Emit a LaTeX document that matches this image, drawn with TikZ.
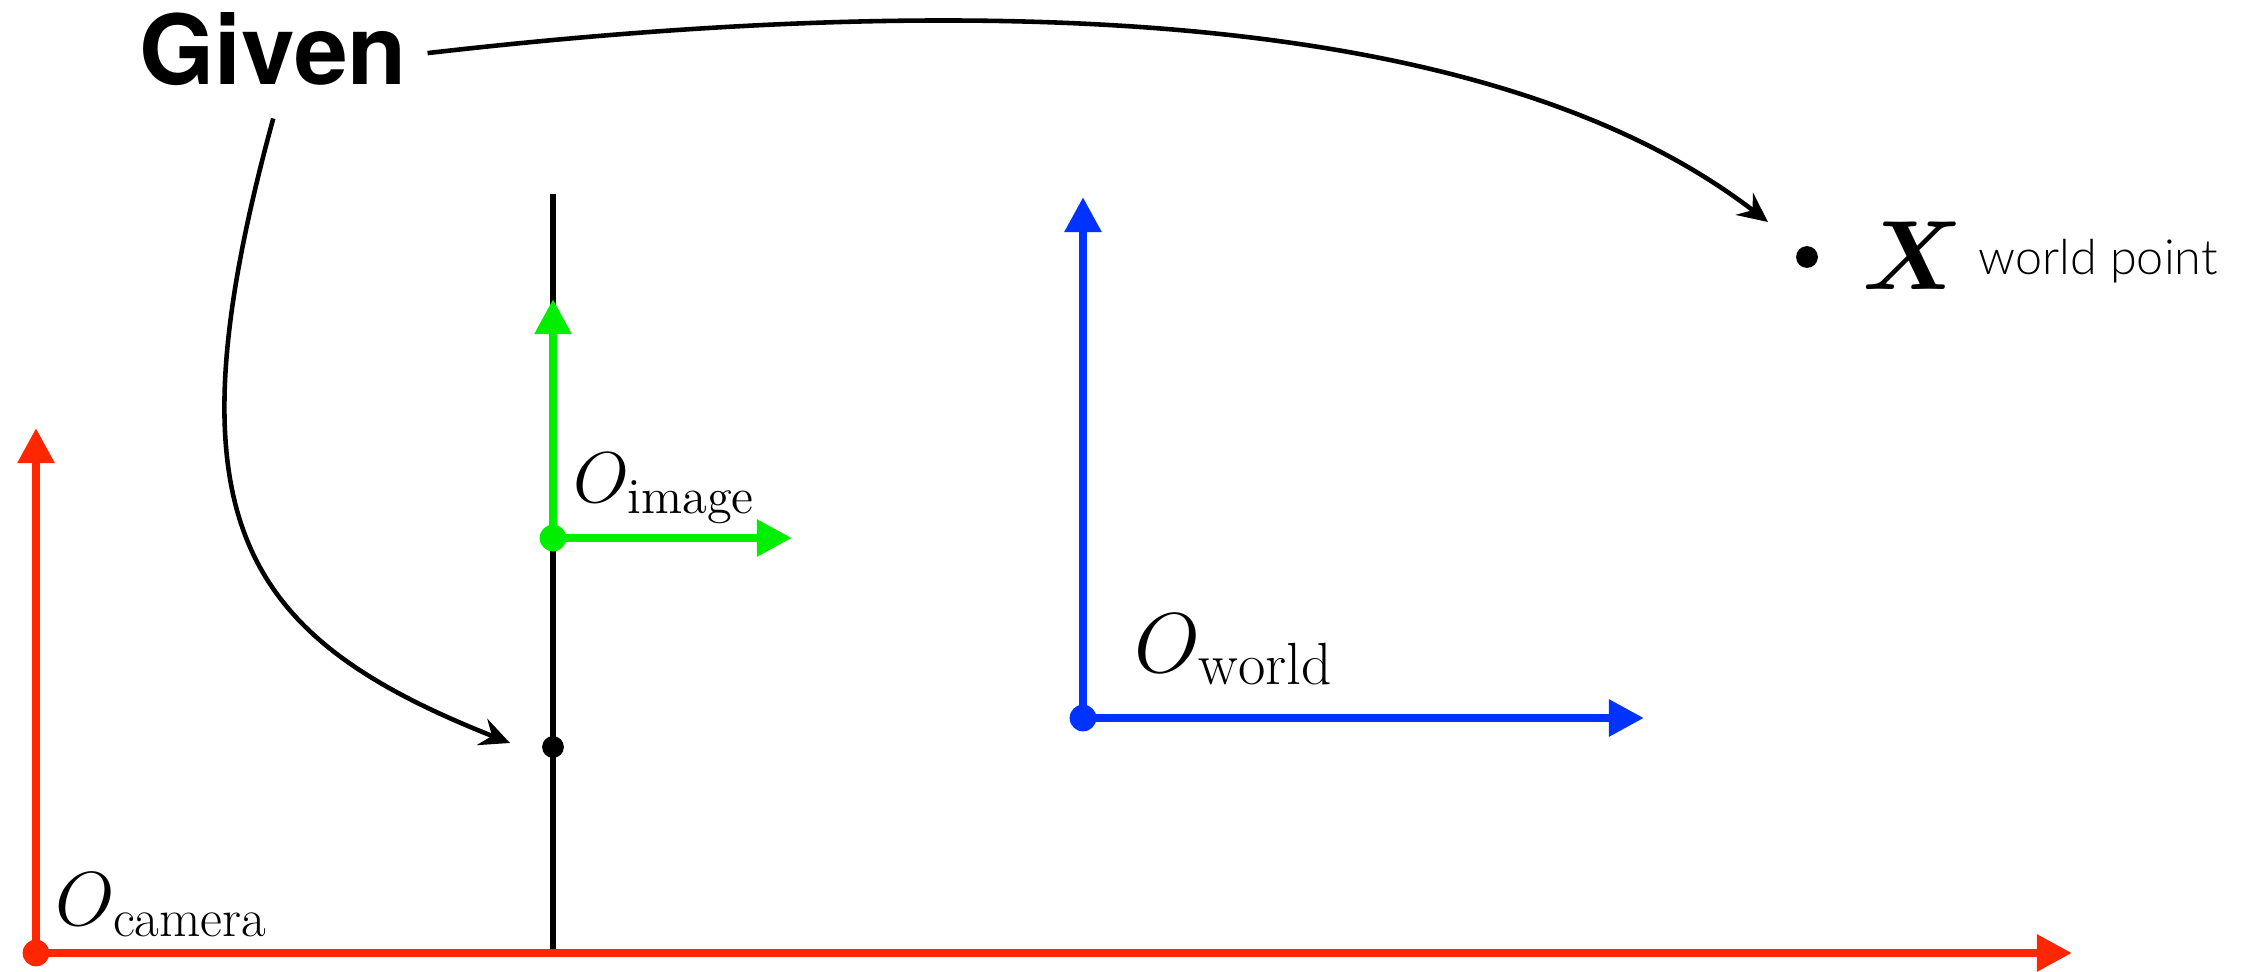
\RequirePackage{fix-cm}
\documentclass[tikz,border=0pt]{standalone}
\usepackage{amsmath}
\usepackage{bm}
\usepackage{fontspec}
\newfontfamily\heros{TeX Gyre Heros}
\IfFontExistsTF{Lato Light}{\newfontfamily\lib{Lato Light}}{\newfontfamily\lib{Liberation Sans}}
\usetikzlibrary{arrows.meta,calc}
\definecolor{axred}{RGB}{255,38,0}
\definecolor{axgreen}{RGB}{0,238,0}
\definecolor{axblue}{RGB}{0,51,255}
\begin{document}
\begin{tikzpicture}[x=0.1mm,y=-0.1mm,
  axis/.style={line width=2.4pt,-{Triangle[length=10pt,width=10pt]}},
  dotnode/.style={circle,inner sep=0pt,minimum size=7.6pt},
  conn/.style={line width=1.3pt,-{Stealth[length=8.5pt,width=8pt,inset=3pt]}},
  lbl/.style={anchor=base west,inner sep=0pt}]
\useasboundingbox (0,0) rectangle (2251,972);
% coordinates
\coordinate (camx) at (2072,953);
\coordinate (camy) at (36,428);
\coordinate (ptop) at (553,194);
\coordinate (pbot) at (553,953);
\coordinate (imgx) at (792,538);
\coordinate (imgy) at (553,299);
\coordinate (wldx) at (1644,718);
\coordinate (wldy) at (1083,197);
% image plane
\draw[line width=1.6pt] (ptop) -- (pbot);
% dots
\node[dotnode] (ocam) at (36,953) {};
\node[dotnode] (oimg) at (553,538) {};
\node[dotnode] (owld) at (1083,718) {};
\node[dotnode,fill=black,minimum size=6.2pt] (imgpt) at (553,747) {};
\node[dotnode,fill=black,minimum size=6.2pt] (xpt) at (1807,257) {};
% axes
\draw[axis,axred] (ocam.center) -- (camx);
\draw[axis,axred] (ocam.center) -- (camy);
\draw[axis,axgreen] (oimg.center) -- (imgx);
\draw[axis,axgreen] (oimg.center) -- (imgy);
\draw[axis,axblue] (owld.center) -- (wldx);
\draw[axis,axblue] (owld.center) -- (wldy);
% origin dots on top
\fill[axred] (ocam) circle[radius=3.8pt];
\fill[axgreen] (oimg) circle[radius=3.8pt];
\fill[axblue] (owld) circle[radius=3.8pt];
% labels
\node[lbl] (given) at (139,85) {\heros\bfseries\fontsize{27.5}{32}\selectfont Given};
\node[lbl] (lcam) at (55,925) {\fontsize{21.8}{26}\selectfont $O_{\mathrm{camera}}$};
\node[lbl] (limg) at (573,503) {\fontsize{20.5}{24}\selectfont $O_{\mathrm{image}}$};
\node[lbl] (lwld) at (1134,672) {\fontsize{24.2}{28}\selectfont $O_{\mathrm{world}}$};
\node[lbl] (lX) at (1862,290) {\fontsize{28}{32}\selectfont $\bm{X}$};
\node[lbl] (lwp) at (1978,275) {\resizebox{68pt}{!}{\lib world point}};
% connectors
\draw[conn] ([xshift=5.7pt,yshift=-1pt]given.east) .. controls +(522,-60) and +(-288,-222) .. ($(xpt)+(-39,-35)$);
\draw[conn] ([yshift=-9pt]given.south) .. controls +(-110,401) and +(-270,-107) .. ($(imgpt)+(-43,-4)$);
\end{tikzpicture}
\end{document}
